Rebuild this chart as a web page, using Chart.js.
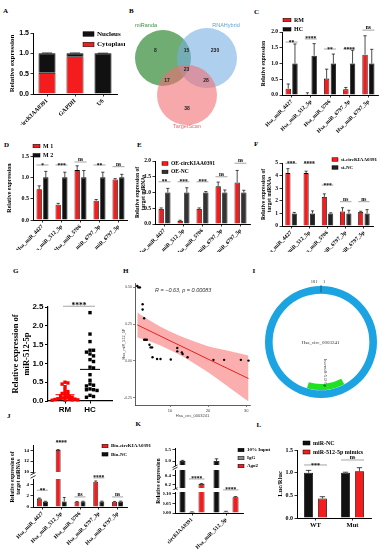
<!DOCTYPE html>
<html>
<head>
<meta charset="utf-8">
<script src="https://cdn.jsdelivr.net/npm/chart.js@4.4.1/dist/chart.umd.min.js"></script>
<style>
  html, body { margin: 0; padding: 0; background: #fff; }
  #fig { position: relative; width: 382px; height: 550px; overflow: hidden; background: #fff; }
  #fig canvas { position: absolute; }
  .tag { position: absolute; font: bold 7px "Liberation Serif"; line-height: 1; color: #000; }
</style>
</head>
<body>
<div id="fig"></div>
<script>
// ---- values ----
const mirLabels = ['Hsa_miR_4427', 'Hsa_miR_512_5p', 'Hsa_miR_5706', 'Hsa_miR_6797_3p', 'Hsa_miR_6797_5p'];

// A: nuclear / cytoplasmic fractions
const locCats = ['circKIAA0391', 'GAPDH', 'U6'];
const cytoplasm = [0.52, 0.93, 0.0];
const nucleus = [0.48, 0.07, 1.0];
const nucleusErr = [0.01, 0.01, 0.005];

// B: venn, region counts: miRanda only, miRanda&RNAHybrid, RNAHybrid only, all three,
// miRanda&TargetScan, RNAHybrid&TargetScan, TargetScan only
const vennNames = ['miRanda', 'RNAHybrid', 'TargetScan'];
const vennCounts = [8, 15, 230, 23, 17, 28, 38];

// C
const rmExpr = [0.2, 0.02, 0.52, 0.18, 1.28];
const rmErr = [0.15, 0.05, 0.3, 0.06, 0.6];
const hcExpr = [1, 1.25, 1, 1, 1];
const hcErr = [0.62, 0.38, 0.3, 0.42, 0.45];
const rmHcSig = ['**', '****', '**', '****', 'ns'];

// D
const m1Expr = [0.72, 0.36, 1.17, 0.45, 0.95];
const m1Err = [0.08, 0.03, 0.1, 0.03, 0.02];
const m2Expr = [1, 1, 1, 1, 1];
const m2Err = [0.14, 0.12, 0.16, 0.12, 0.07];
const m1m2Sig = ['*', '***', 'ns', '**', 'ns'];

// E
const oeExpr = [0.48, 0.1, 0.48, 1.2, 1.32];
const oeErr = [0.03, 0.02, 0.03, 0.13, 0.38];
const oeNcExpr = [1, 1, 1, 1, 1];
const oeNcErr = [0.13, 0.15, 0.03, 0.08, 0.07];
const oeSig = ['**', '***', '***', 'ns', 'ns'];

// F
const siExpr = [4.2, 4.2, 2.3, 1.15, 1.12];
const siErr = [0.35, 0.15, 0.25, 0.3, 0.05];
const siNcExpr = [1, 1, 1, 1, 1];
const siNcErr = [0.08, 0.2, 0.05, 0.25, 0.3];
const siSig = ['***', '****', '***', 'ns', 'ns'];

// G
const gCats = ['RM', 'HC'];
const rmMiR512 = [0.5, 0.48, 0.45, 0.38, 0.3, 0.25, 0.22, 0.2, 0.18, 0.15, 0.14, 0.12, 0.1, 0.09, 0.08, 0.07, 0.06, 0.05, 0.05, 0.04, 0.03, 0.03, 0.02, 0.02];
const hcMiR512 = [2.35, 1.78, 1.58, 1.35, 1.35, 1.3, 1.25, 1.2, 1.1, 1.05, 0.9, 0.88, 0.7, 0.55, 0.45, 0.42, 0.4, 0.32, 0.3, 0.3, 0.28, 0.15, 0.12, 0.1];

// H: correlation
const circLevel = [1.4, 1.7, 2.1, 2.8, 2.8, 3.2, 3.2, 3.5, 3.9, 4.6, 4.9, 5.3, 5.4, 6.6, 7.5, 10.2, 11.9, 11.9, 13.1, 13.3, 14.6, 21.4, 24.2, 28.6, 30.6];
const mirLevel = [0.51, 0.5, 0.5, 0.385, 0.35, 0.29, 0.144, 0.144, 0.144, 0.11, 0.092, 0.092, 0.025, 0.013, 0.013, 0.01, 0.088, 0.065, 0.058, 0.047, 0.025, 0.007, 0.007, 0.007, 0.002];
const fitX = [1.4, 5, 10, 15, 20, 25, 30.6];
const fitY = [0.245, 0.2, 0.137, 0.075, 0.012, -0.05, -0.12];
const fitUpper = [0.33, 0.27, 0.2, 0.145, 0.1, 0.07, 0.036];
const fitLower = [0.16, 0.13, 0.074, 0.005, -0.078, -0.17, -0.276];

// I: circRNA map
const circLength = 181;
const siteStart = 76;
const siteEnd = 99;

// J
const bioCirc = [1.5, 14.1, 0.95, 4.5, 0.95];
const bioCircErr = [0.1, 0.05, 0.03, 0.15, 0.03];
const bioNc = [1, 1, 1, 1, 1];
const bioNcErr = [0.03, 0.7, 0.03, 0.05, 0.05];
const bioSig = ['**', '****', 'ns', '****', 'ns'];

// K
const ripCats = ['circKIAA0391', 'Hsa_miR_512_5p'];
const inputExpr = [1.0, 1.0];
const inputErr = [0.03, 0.1];
const iggExpr = [0.005, 0.007];
const iggErr = [0.001, 0.002];
const ago2Expr = [0.22, 0.083];
const ago2Err = [0.01, 0.003];
const ripSig = ['****', '****'];

// L
const lucCats = ['WT', 'Mut'];
const lucNc = [1.0, 1.0];
const lucNcErr = [0.05, 0.01];
const lucMimic = [0.43, 1.03];
const lucMimicErr = [0.04, 0.08];
const lucSig = ['***', 'ns'];

const RED = '#f41c1c';
const BLACK = '#111';

Chart.defaults.font.family = 'Liberation Serif';
Chart.defaults.font.weight = 'bold';
Chart.defaults.color = '#000';
Chart.defaults.plugins.legend.display = false;
Chart.defaults.plugins.tooltip.enabled = false;
Chart.defaults.animation = false;
Chart.defaults.events = [];

const fig = document.getElementById('fig');

// upward error bars on every dataset carrying an "errors" array
const errorBars = {
  id: 'errorBars',
  afterDatasetsDraw(chart) {
    const {ctx, chartArea: a} = chart;
    ctx.save();
    ctx.beginPath();
    ctx.rect(a.left, a.top, a.right - a.left, a.bottom - a.top);
    ctx.clip();
    ctx.strokeStyle = '#000';
    ctx.lineWidth = 0.7;
    chart.data.datasets.forEach((ds, di) => {
      if (!ds.errors) return;
      const meta = chart.getDatasetMeta(di);
      const ys = chart.scales[meta.yAxisID];
      meta.data.forEach((el, i) => {
        const e = ds.errors[i];
        if (!e) return;
        const top = el.y + ys.getPixelForValue(e) - ys.getPixelForValue(0);
        const w = el.width * 0.3;
        ctx.beginPath();
        ctx.moveTo(el.x, el.y);
        ctx.lineTo(el.x, top);
        ctx.moveTo(el.x - w, top);
        ctx.lineTo(el.x + w, top);
        ctx.stroke();
      });
    });
    ctx.restore();
  }
};
Chart.register(errorBars);

function textsPlugin(items) {
  return {
    id: 'texts',
    afterDraw(chart) {
      const ctx = chart.ctx;
      items.forEach(it => {
        ctx.save();
        ctx.translate(it.x, it.y);
        if (it.rot) ctx.rotate(it.rot * Math.PI / 180);
        ctx.font = `${it.style || ''} ${it.weight || 'bold'} ${it.size}px "${it.family || 'Liberation Serif'}"`;
        ctx.fillStyle = it.color || '#000';
        ctx.textAlign = it.align || 'center';
        ctx.textBaseline = 'middle';
        ctx.fillText(it.t, 0, 0);
        ctx.restore();
      });
    }
  };
}

function legendPlugin(spec) {
  return {
    id: 'boxLegend',
    afterDraw(chart) {
      const ctx = chart.ctx;
      const order = spec.order || chart.data.datasets.map((d, i) => i);
      ctx.save();
      order.forEach((di, k) => {
        const ds = chart.data.datasets[di];
        const y = spec.y + k * spec.dy;
        ctx.fillStyle = ds.backgroundColor;
        ctx.fillRect(spec.x, y - spec.bh / 2, spec.bw, spec.bh);
        ctx.strokeStyle = '#000';
        ctx.lineWidth = 0.5;
        ctx.strokeRect(spec.x, y - spec.bh / 2, spec.bw, spec.bh);
        ctx.font = `bold ${spec.size}px "Liberation Serif"`;
        ctx.fillStyle = '#000';
        ctx.textAlign = 'left';
        ctx.textBaseline = 'middle';
        ctx.fillText(ds.label, spec.x + spec.bw + 3, y);
      });
      ctx.restore();
    }
  };
}

// significance brackets between two bars of a group (or an x-value range)
function sigPlugin(spec) {
  return {
    id: 'sig',
    afterDraw(chart) {
      const ctx = chart.ctx, ys = chart.scales.y;
      ctx.save();
      spec.text.forEach((t, i) => {
        if (!t) return;
        let x0, x1;
        if (spec.ranges) {
          x0 = chart.scales.x.getPixelForValue(spec.ranges[i][0]);
          x1 = chart.scales.x.getPixelForValue(spec.ranges[i][1]);
        } else {
          const a = chart.getDatasetMeta(spec.from ?? 0).data[i];
          const b = chart.getDatasetMeta(spec.to ?? 1).data[i];
          x0 = a.x - a.width / 2;
          x1 = b.x + b.width / 2;
        }
        const y = ys.getPixelForValue(spec.at[i]);
        ctx.strokeStyle = '#666';
        ctx.lineWidth = 0.6;
        ctx.beginPath();
        ctx.moveTo(x0, y);
        ctx.lineTo(x1, y);
        ctx.stroke();
        ctx.font = `bold ${spec.size}px "Liberation Serif"`;
        ctx.fillStyle = '#000';
        ctx.textAlign = 'center';
        ctx.textBaseline = 'alphabetic';
        const lift = t === 'ns' ? -0.8 : spec.size * 0.28;
        ctx.fillText(t, (x0 + x1) / 2, y + lift);
      });
      ctx.restore();
    }
  };
}

// "//" marks under a broken axis segment
function breakPlugin(gap) {
  return {
    id: 'axisBreak',
    afterDraw(chart) {
      const {ctx, chartArea: a} = chart;
      ctx.save();
      ctx.strokeStyle = '#000';
      ctx.lineWidth = 0.8;
      [gap * 0.25, gap * 0.7].forEach(d => {
        ctx.beginPath();
        ctx.moveTo(a.left - 2.5, a.bottom + d + 1.3);
        ctx.lineTo(a.left + 2.5, a.bottom + d - 1.3);
        ctx.stroke();
      });
      ctx.restore();
    }
  };
}

function tag(ch, x, y) {
  const d = document.createElement('div');
  d.className = 'tag';
  d.textContent = ch;
  d.style.left = x + 'px';
  d.style.top = y + 'px';
  fig.appendChild(d);
}

function mk(box, cfg) {
  const c = document.createElement('canvas');
  c.width = box.w;
  c.height = box.h;
  c.style.left = box.l + 'px';
  c.style.top = box.t + 'px';
  fig.appendChild(c);
  cfg.options = Object.assign({responsive: false, maintainAspectRatio: false, devicePixelRatio: 1}, cfg.options);
  return new Chart(c.getContext('2d'), cfg);
}

// pin the chart area to page coordinates
function frame(box, plot, yw, showX) {
  const xh = box.t + box.h - plot.b;
  return {
    padding: {left: plot.l - box.l - yw, top: plot.t - box.t, right: box.l + box.w - plot.r, bottom: showX ? 0 : xh},
    fitY: s => { s.width = yw; s.paddingTop = 0; s.paddingBottom = 0; s.paddingLeft = 0; s.paddingRight = 0; },
    fitX: s => { s.height = xh; s.paddingLeft = 0; s.paddingRight = 0; s.paddingTop = 0; s.paddingBottom = 0; }
  };
}

const toCanvas = (box, items) => items.map(it => Object.assign({}, it, {x: it.x - box.l, y: it.y - box.t}));

function bars(o) {
  const f = frame(o.box, o.plot, o.yw, !o.hideX);
  const datasets = o.sets.map(s => ({
    label: s.label, data: s.data, errors: s.err,
    backgroundColor: s.color, borderColor: '#000', borderWidth: 0.8,
    categoryPercentage: o.cat, barPercentage: o.bar
  }));
  const plugins = [];
  if (o.sig) plugins.push(sigPlugin(o.sig));
  if (o.legend) plugins.push(legendPlugin(Object.assign({}, o.legend, {x: o.legend.x - o.box.l, y: o.legend.y - o.box.t})));
  if (o.texts) plugins.push(textsPlugin(toCanvas(o.box, o.texts)));
  if (o.brk) plugins.push(breakPlugin(o.brk));
  const [yMin, yMax, yStep, dec] = o.y;
  const hide = o.hideTicks || [];
  const rot = o.rot ?? 45;
  const xScale = {
    display: !o.hideX, stacked: !!o.stacked, offset: true,
    grid: {offset: false, drawOnChartArea: false, tickLength: 2.5, color: '#000', lineWidth: 0.8},
    border: {color: '#000', width: 1},
    ticks: {font: {size: o.xFont, weight: 'bold'}, color: '#000', minRotation: rot, maxRotation: rot, autoSkip: false, padding: 1}
  };
  if (!o.hideX) xScale.afterFit = f.fitX;
  return mk(o.box, {
    type: 'bar',
    data: {labels: o.labels, datasets},
    options: {
      layout: {padding: f.padding, autoPadding: false},
      scales: {
        x: xScale,
        y: {
          stacked: !!o.stacked, min: yMin, max: yMax,
          ticks: {stepSize: yStep, includeBounds: false, font: {size: o.tick, weight: 'bold', family: o.tickFamily || 'Liberation Serif'},
                  color: '#000', padding: 1.5, callback: v => Number(v).toFixed(dec)},
          afterBuildTicks: s => { s.ticks = s.ticks.filter(t => !hide.includes(t.value)); },
          grid: {drawOnChartArea: false, tickLength: 2.5, color: '#000', lineWidth: 0.8},
          border: {color: '#000', width: 1},
          title: o.title ? {display: true, text: o.title, font: {size: o.titleSize, weight: 'bold'}, padding: 0, color: '#000'} : {display: false},
          afterFit: f.fitY
        }
      }
    },
    plugins
  });
}

// simple beeswarm so equal values do not sit exactly on top of each other
function swarm(values, center, pxX, pxY, size) {
  const placed = [];
  const out = new Array(values.length);
  values.map((v, i) => i).sort((a, b) => values[b] - values[a]).forEach(i => {
    const v = values[i];
    for (let k = 0; k < 60; k++) {
      const x = center + (k % 2 ? 1 : -1) * Math.ceil(k / 2) * size * 0.55 / pxX;
      if (placed.every(p => Math.hypot((p.x - x) * pxX, (p.y - v) * pxY) >= size)) {
        placed.push({x, y: v});
        out[i] = {x, y: v};
        break;
      }
    }
  });
  return out;
}

// ---- panel letters ----
[['A', 3, 7.5], ['B', 129, 8], ['C', 254, 8.5], ['D', 4, 142], ['E', 137, 142], ['F', 254, 141],
 ['G', 13, 267.5], ['H', 123, 267.5], ['I', 252.5, 267.5], ['J', 7, 412.5], ['K', 135.5, 421], ['L', 256.5, 422]]
  .forEach(([c, x, y]) => tag(c, x, y));

// ---- A ----
bars({
  box: {l: 0, t: 18, w: 125, h: 107}, plot: {l: 33, t: 33, r: 117, b: 94}, yw: 25,
  labels: locCats, y: [0, 1.5, 0.5, 1], tick: 7, tickFamily: 'Liberation Sans', xFont: 6, cat: 0.8, bar: 0.76, stacked: true,
  title: 'Relative expression', titleSize: 7,
  sets: [
    {label: 'Cytoplasm', data: cytoplasm, color: RED},
    {label: 'Nucleus', data: nucleus, err: nucleusErr, color: BLACK}
  ],
  legend: {x: 83, y: 34, dy: 10.5, bw: 11, bh: 4.5, size: 7, order: [1, 0]}
});

// ---- B (venn drawn as a bubble chart) ----
(function () {
  const box = {l: 125, t: 15, w: 125, h: 120};
  const lbl = (t, x, y, color, size, weight) => ({t, x, y, color, size, family: 'Liberation Sans', weight: weight || 'normal'});
  mk(box, {
    type: 'bubble',
    data: {
      datasets: [
        {label: vennNames[2], data: [{x: 62, y: 80, r: 30}], backgroundColor: 'rgba(240,110,115,0.6)', borderWidth: 0, clip: false},
        {label: vennNames[1], data: [{x: 82, y: 43, r: 30}], backgroundColor: 'rgba(120,175,225,0.6)', borderWidth: 0, clip: false},
        {label: vennNames[0], data: [{x: 38, y: 43, r: 28}], backgroundColor: 'rgba(70,150,75,0.78)', borderWidth: 0, clip: false}
      ]
    },
    options: {
      layout: {padding: 0, autoPadding: false},
      scales: {
        x: {display: false, min: 0, max: box.w},
        y: {display: false, min: 0, max: box.h, reverse: true}
      }
    },
    plugins: [textsPlugin(toCanvas(box, [
      lbl(vennNames[0], 146, 25, '#3f8f45', 5.5),
      lbl(vennNames[1], 226, 25, '#5d9fd6', 5.5),
      lbl(vennNames[2], 187, 126, '#e46a6e', 5.5),
      lbl(String(vennCounts[0]), 155.5, 50.5, '#222', 5, 'bold'),
      lbl(String(vennCounts[1]), 186.5, 50.5, '#222', 5, 'bold'),
      lbl(String(vennCounts[2]), 215, 50.5, '#222', 5, 'bold'),
      lbl(String(vennCounts[3]), 186.5, 69.5, '#222', 5, 'bold'),
      lbl(String(vennCounts[4]), 167, 80.5, '#222', 5, 'bold'),
      lbl(String(vennCounts[5]), 206, 80.5, '#222', 5, 'bold'),
      lbl(String(vennCounts[6]), 187, 109, '#222', 5, 'bold')
    ]))]
  });
})();

// ---- C ----
bars({
  box: {l: 250, t: 12, w: 132, h: 121}, plot: {l: 282, t: 32, r: 378, b: 95}, yw: 22,
  labels: mirLabels, y: [0, 2, 0.5, 1], tick: 5.5, xFont: 5.5, cat: 0.7, bar: 0.8,
  title: 'Relative expression', titleSize: 5.5,
  sets: [
    {label: 'RM', data: rmExpr, err: rmErr, color: RED},
    {label: 'HC', data: hcExpr, err: hcErr, color: BLACK}
  ],
  sig: {text: rmHcSig, at: [1.68, 1.78, 1.46, 1.46, 2.06], size: 5.5},
  legend: {x: 283, y: 20, dy: 9.3, bw: 8, bh: 3.5, size: 6}
});

// ---- D ----
bars({
  box: {l: 0, t: 140, w: 128, h: 110}, plot: {l: 33, t: 156, r: 128, b: 220}, yw: 27,
  labels: mirLabels, y: [0, 1.5, 0.5, 1], tick: 6, xFont: 5.5, cat: 0.7, bar: 0.8,
  title: 'Relative expression', titleSize: 6,
  sets: [
    {label: 'M 1', data: m1Expr, err: m1Err, color: RED},
    {label: 'M 2', data: m2Expr, err: m2Err, color: BLACK}
  ],
  sig: {text: m1m2Sig, at: [1.29, 1.29, 1.36, 1.29, 1.25], size: 5.5},
  legend: {x: 33, y: 146, dy: 9.3, bw: 7, bh: 3.5, size: 6}
});

// ---- E ----
bars({
  box: {l: 128, t: 140, w: 125, h: 112}, plot: {l: 155, t: 161, r: 250, b: 224}, yw: 21,
  labels: mirLabels, y: [0, 2, 0.5, 1], tick: 5.5, xFont: 5.5, cat: 0.7, bar: 0.8,
  title: ['Relative expression of', 'target miRNAs'], titleSize: 5.5,
  sets: [
    {label: 'OE-circKIAA0391', data: oeExpr, err: oeErr, color: RED},
    {label: 'OE-NC', data: oeNcExpr, err: oeNcErr, color: '#333'}
  ],
  sig: {text: oeSig, at: [1.34, 1.34, 1.34, 1.5, 1.93], size: 5.5},
  legend: {x: 162, y: 163.5, dy: 8.4, bw: 6, bh: 3.5, size: 5.5}
});

// ---- F ----
bars({
  box: {l: 253, t: 140, w: 129, h: 112}, plot: {l: 282, t: 163, r: 373, b: 226}, yw: 22,
  labels: mirLabels, y: [0, 5, 1, 0], tick: 5.5, xFont: 5.5, cat: 0.7, bar: 0.8,
  title: ['Relative expression of', 'target miRNAs'], titleSize: 5.5,
  sets: [
    {label: 'si-circKIAA0391', data: siExpr, err: siErr, color: RED},
    {label: 'si-NC', data: siNcExpr, err: siNcErr, color: '#222'}
  ],
  sig: {text: siSig, at: [4.97, 4.97, 3.25, 1.93, 1.93], size: 5.5},
  legend: {x: 332, y: 159.5, dy: 8, bw: 6, bh: 3.5, size: 5}
});

// ---- G ----
(function () {
  const box = {l: 0, t: 285, w: 118, h: 130}, plot = {l: 48, t: 307, r: 112, b: 401};
  const xMin = 0.32, xMax = 2.88, yMax = 2.5;
  const pxX = (plot.r - plot.l) / (xMax - xMin), pxY = (plot.b - plot.t) / yMax;
  const f = frame(box, plot, 37, true);
  const mean = a => a.reduce((s, v) => s + v, 0) / a.length;
  const mRM = mean(rmMiR512), mHC = mean(hcMiR512);
  mk(box, {
    type: 'scatter',
    data: {
      datasets: [
        {data: swarm(rmMiR512, 1, pxX, pxY, 2.6), pointStyle: 'rect', pointRadius: 2.4, backgroundColor: '#f00', borderWidth: 0, clip: false},
        {data: swarm(hcMiR512, 2, pxX, pxY, 3.2), pointStyle: 'rect', pointRadius: 2.4, backgroundColor: '#000', borderWidth: 0, clip: false},
        {type: 'line', data: [{x: 0.62, y: mRM}, {x: 1.38, y: mRM}], borderColor: '#f00', borderWidth: 1, pointRadius: 0},
        {type: 'line', data: [{x: 1.6, y: mHC}, {x: 2.4, y: mHC}], borderColor: '#000', borderWidth: 1, pointRadius: 0}
      ]
    },
    options: {
      layout: {padding: f.padding, autoPadding: false},
      scales: {
        x: {
          type: 'linear', min: xMin, max: xMax,
          afterBuildTicks: s => { s.ticks = [{value: 1}, {value: 2}]; },
          ticks: {callback: v => gCats[v - 1], font: {size: 8, weight: 'bold', family: 'Liberation Sans'}, color: '#000', padding: 1, maxRotation: 0},
          grid: {drawOnChartArea: false, tickLength: 2.5, color: '#000'},
          border: {color: '#000', width: 1.2},
          afterFit: f.fitX
        },
        y: {
          min: 0, max: yMax,
          ticks: {stepSize: 0.5, callback: v => Number(v).toFixed(1), font: {size: 8, weight: 'bold', family: 'Liberation Sans'}, color: '#000', padding: 1.5},
          grid: {drawOnChartArea: false, tickLength: 3, color: '#000'},
          border: {color: '#000', width: 1.2},
          title: {display: true, text: ['Relative expression of', 'miR-512-5p'], font: {size: 8.5, weight: 'bold'}, padding: 0, color: '#000'},
          afterFit: f.fitY
        }
      }
    },
    plugins: [sigPlugin({text: ['****'], at: [2.52], ranges: [[0.92, 2.2]], size: 7.5})]
  });
})();

// ---- H ----
(function () {
  const box = {l: 118, t: 278, w: 137, h: 140}, plot = {l: 135, t: 283, r: 250, b: 405};
  const f = frame(box, plot, 13, true);
  const pts = (xs, ys) => xs.map((x, i) => ({x, y: ys[i]}));
  const tickFont = {size: 4, weight: 'normal', family: 'Liberation Sans'};
  mk(box, {
    type: 'scatter',
    data: {
      datasets: [
        {data: pts(circLevel, mirLevel), backgroundColor: '#000', pointRadius: 1.2, borderWidth: 0},
        {type: 'line', data: pts(fitX, fitY), borderColor: '#e8201e', borderWidth: 1, pointRadius: 0, fill: false},
        {type: 'line', data: pts(fitX, fitUpper), borderWidth: 0, pointRadius: 0, cubicInterpolationMode: 'monotone',
         fill: '+1', backgroundColor: 'rgba(246,120,120,0.6)'},
        {type: 'line', data: pts(fitX, fitLower), borderWidth: 0, pointRadius: 0, cubicInterpolationMode: 'monotone', fill: false}
      ]
    },
    options: {
      layout: {padding: f.padding, autoPadding: false},
      scales: {
        x: {
          type: 'linear', min: 0.8, max: 31,
          ticks: {stepSize: 10, includeBounds: false, font: tickFont, color: '#444', padding: 1, maxRotation: 0},
          grid: {drawOnChartArea: false, tickLength: 2, color: '#333', lineWidth: 0.6},
          border: {color: '#333', width: 0.8},
          title: {display: true, text: 'Hsa_circ_0003241', font: {size: 4, weight: 'normal', family: 'Liberation Sans'}, padding: 0, color: '#444'},
          afterFit: f.fitX
        },
        y: {
          min: -0.3, max: 0.53,
          ticks: {stepSize: 0.25, includeBounds: false, callback: v => Number(v).toFixed(2), font: {size: 3.5, weight: 'normal', family: 'Liberation Sans'}, color: '#444', padding: 1},
          grid: {drawOnChartArea: false, tickLength: 2, color: '#333', lineWidth: 0.6},
          border: {color: '#333', width: 0.8},
          title: {display: true, text: 'Hsa_miR_512_5P', font: {size: 3.8, weight: 'normal', family: 'Liberation Sans'}, padding: 0, color: '#444'},
          afterFit: f.fitY
        }
      }
    },
    plugins: [textsPlugin(toCanvas(box, [
      {t: 'R = \u22120.63, p = 0.00083', x: 155, y: 290, size: 5.5, family: 'Liberation Sans', weight: 'normal', color: '#333', align: 'left', style: 'italic'}
    ]))]
  });
})();

// ---- I ----
(function () {
  const box = {l: 261, t: 276, w: 120, h: 132};
  const ringTick = {
    id: 'ringTick',
    afterDraw(chart) {
      const {ctx, chartArea: a} = chart;
      const cx = (a.left + a.right) / 2, cy = (a.top + a.bottom) / 2;
      ctx.save();
      ctx.strokeStyle = '#333';
      ctx.lineWidth = 0.7;
      ctx.beginPath();
      ctx.moveTo(cx, cy - 49.5);
      ctx.lineTo(cx, cy - 57);
      ctx.stroke();
      ctx.restore();
    }
  };
  mk(box, {
    type: 'doughnut',
    data: {
      labels: ['before', 'hsa-miR-512-5p', 'after'],
      datasets: [
        {data: [circLength], backgroundColor: ['#1ba3e2'], borderWidth: 0, weight: 6},
        {data: [siteStart, siteEnd - siteStart, circLength - siteEnd],
         backgroundColor: ['rgba(0,0,0,0)', '#22e022', 'rgba(0,0,0,0)'], borderWidth: 0, weight: 5}
      ]
    },
    options: {radius: 56, cutout: 45, layout: {padding: 0}},
    plugins: [ringTick, textsPlugin(toCanvas(box, [
      {t: '181', x: 314, y: 282, size: 4.5, weight: 'normal', color: '#333'},
      {t: '1', x: 324, y: 282, size: 4.5, weight: 'normal', color: '#333'},
      {t: 'Hsa_circ_0003241', x: 320.5, y: 342.5, size: 5, weight: 'normal', color: '#333'},
      {t: 'hsa-miR-512-5p', x: 325, y: 373, size: 4.2, weight: 'normal', color: '#333', rot: 90}
    ]))]
  });
})();

// ---- J (broken y axis: 10-15 over 0-5) ----
const jSets = [
  {label: 'Bio-circKIAA0391', data: bioCirc, err: bioCircErr, color: RED},
  {label: 'Bio-NC', data: bioNc, err: bioNcErr, color: BLACK}
];
bars({
  box: {l: 0, t: 425, w: 155, h: 85}, plot: {l: 33, t: 445, r: 127, b: 472}, yw: 12,
  labels: mirLabels, y: [10, 15, 2, 0], tick: 5, xFont: 5.5, cat: 0.65, bar: 0.8, hideX: true,
  sets: jSets,
  sig: {text: ['', bioSig[1], '', '', ''], at: [0, 15.55, 0, 0, 0], size: 5.5},
  legend: {x: 102, y: 446, dy: 8.3, bw: 6, bh: 3.5, size: 5},
  texts: [
    {t: 'Relative expression of', x: 12.5, y: 477, size: 5.5, rot: -90},
    {t: 'target miRNAs', x: 19, y: 477, size: 5.5, rot: -90}
  ],
  brk: 7
});
bars({
  box: {l: 0, t: 468, w: 150, h: 82}, plot: {l: 33, t: 479, r: 127, b: 507}, yw: 12,
  labels: mirLabels, y: [0, 5, 1, 0], hideTicks: [5], tick: 5, xFont: 5.5, cat: 0.65, bar: 0.8,
  sets: jSets,
  sig: {text: [bioSig[0], '', bioSig[2], bioSig[3], bioSig[4]], at: [3.0, 0, 1.8, 5.2, 1.8], size: 5.5}
});

// ---- K (broken y axis in three parts) ----
const kSets = [
  {label: '10% Input', data: inputExpr, err: inputErr, color: BLACK},
  {label: 'IgG', data: iggExpr, err: iggErr, color: '#8a8a8a'},
  {label: 'Ago2', data: ago2Expr, err: ago2Err, color: RED}
];
bars({
  box: {l: 150, t: 428, w: 150, h: 85}, plot: {l: 175, t: 448, r: 243, b: 465}, yw: 12,
  labels: ripCats, y: [0.82, 1.59, 0.5, 1], tick: 5, xFont: 5.5, cat: 0.84, bar: 0.63, hideX: true,
  sets: kSets,
  legend: {x: 238, y: 450, dy: 8, bw: 6, bh: 3.5, size: 5},
  texts: [{t: 'Relative expression', x: 158.5, y: 481, size: 5.5, rot: -90}],
  brk: 5
});
bars({
  box: {l: 150, t: 466, w: 105, h: 24}, plot: {l: 175, t: 470, r: 243, b: 488}, yw: 12,
  labels: ripCats, y: [0.133, 0.53, 0.2, 1], tick: 5, xFont: 5.5, cat: 0.84, bar: 0.63, hideX: true,
  sets: kSets,
  sig: {text: [ripSig[0], ''], at: [0.333, 0], from: 1, to: 2, size: 5.5},
  brk: 4
});
bars({
  box: {l: 150, t: 482, w: 105, h: 68}, plot: {l: 175, t: 492, r: 243, b: 513}, yw: 12,
  labels: ripCats, y: [0, 0.11, 0.05, 2], tick: 5, xFont: 5.5, cat: 0.84, bar: 0.63,
  sets: kSets,
  sig: {text: ['', ripSig[1]], at: [0, 0.121], from: 1, to: 2, size: 5.5}
});

// ---- L ----
bars({
  box: {l: 255, t: 425, w: 127, h: 125}, plot: {l: 297, t: 450, r: 371, b: 518}, yw: 21,
  labels: lucCats, y: [0, 1.5, 0.5, 1], tick: 6, xFont: 6.5, cat: 0.75, bar: 0.65, rot: 0,
  title: 'Luc/Rluc', titleSize: 6.5,
  sets: [
    {label: 'miR-NC', data: lucNc, err: lucNcErr, color: BLACK},
    {label: 'miR-512-5p mimics', data: lucMimic, err: lucMimicErr, color: RED}
  ],
  sig: {text: lucSig, at: [1.17, 1.28], size: 6},
  legend: {x: 303, y: 443, dy: 9, bw: 7, bh: 4, size: 6}
});
</script>
</body>
</html>
